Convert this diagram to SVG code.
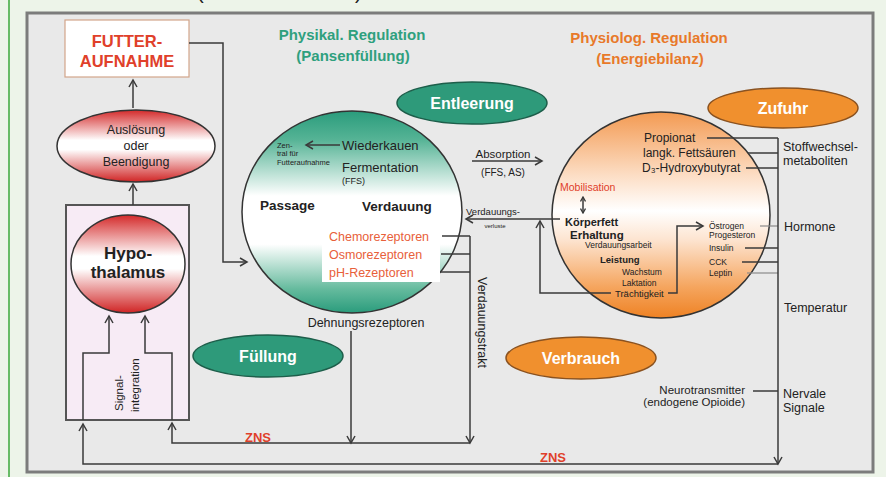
<svg xmlns="http://www.w3.org/2000/svg" width="886" height="477" viewBox="0 0 886 477">
  <defs>
    <linearGradient id="gRed" x1="0" y1="0" x2="0" y2="1">
      <stop offset="0" stop-color="#d42a2a"/>
      <stop offset="0.42" stop-color="#ffffff"/>
      <stop offset="0.55" stop-color="#ffffff"/>
      <stop offset="1" stop-color="#d02424"/>
    </linearGradient>
    <linearGradient id="gGreen" x1="0" y1="0" x2="0" y2="1">
      <stop offset="0" stop-color="#2a9c7c"/>
      <stop offset="0.14" stop-color="#55b395"/>
      <stop offset="0.42" stop-color="#ffffff"/>
      <stop offset="0.66" stop-color="#ffffff"/>
      <stop offset="0.88" stop-color="#66bb9e"/>
      <stop offset="1" stop-color="#2a9c7c"/>
    </linearGradient>
    <linearGradient id="gOrange" x1="0" y1="0" x2="0" y2="1">
      <stop offset="0" stop-color="#f39a52"/>
      <stop offset="0.3" stop-color="#fcdcc2"/>
      <stop offset="0.48" stop-color="#ffffff"/>
      <stop offset="0.62" stop-color="#fde4d0"/>
      <stop offset="0.85" stop-color="#f5a55e"/>
      <stop offset="1" stop-color="#ee8224"/>
    </linearGradient>
    <marker id="arr" markerWidth="10" markerHeight="10" refX="8" refY="5" orient="auto" markerUnits="userSpaceOnUse">
      <path d="M1,1 L8,5 L1,9" fill="none" stroke="#3a3a3a" stroke-width="1.5"/>
    </marker>
    <marker id="arrSm" markerWidth="6" markerHeight="6" refX="5" refY="3" orient="auto-start-reverse" markerUnits="userSpaceOnUse">
      <path d="M0.5,0.5 L5,3 L0.5,5.5" fill="none" stroke="#3a3a3a" stroke-width="1.3"/>
    </marker>
    <style>
      text { font-family: "Liberation Sans", Arial, sans-serif; fill: #222; }
      .b { font-weight: bold; }
      .mid { text-anchor: middle; }
      .end { text-anchor: end; }
      .red { fill: #e0402a; }
      .rec { fill: #e8603a; }
      .wh { fill: #ffffff; font-weight: bold; }
      .ln { fill: none; stroke: #3a3a3a; stroke-width: 1.5; }
      .lt { fill: none; stroke: #8a8a8a; stroke-width: 1.2; }
      .ellG { fill: #2e9a7a; stroke: #1d5e4a; stroke-width: 1.5; }
      .ellO { fill: #f0902e; stroke: #8a5220; stroke-width: 1.5; }
      .circ { stroke: #333; stroke-width: 1.5; }
    </style>
  </defs>

  <!-- page background and frame -->
  <rect x="0" y="0" width="886" height="477" fill="#edf4e9"/>
  <line x1="9" y1="0" x2="9" y2="477" stroke="#3aa83a" stroke-width="1.5"/>
  <text x="197" y="-1" style="font-size:20px">(</text>
  <text x="355" y="-1" style="font-size:20px">)</text>
  <rect x="27" y="13" width="846" height="459" fill="#e9e9e9" stroke="#7c7c7c" stroke-width="3"/>

  <!-- headings -->
  <g id="title-physical">
    <text x="352" y="40" class="b mid" style="font-size:15px;fill:#2fa07e">Physikal. Regulation</text>
    <text x="353" y="61" class="b mid" style="font-size:15px;fill:#2fa07e">(Pansenfüllung)</text>
  </g>
  <g id="title-physiological">
    <text x="649" y="43" class="b mid" style="font-size:15px;fill:#e8792a">Physiolog. Regulation</text>
    <text x="650" y="64" class="b mid" style="font-size:15px;fill:#e8792a">(Energiebilanz)</text>
  </g>

  <!-- left column -->
  <g id="futteraufnahme">
    <rect x="65" y="20" width="124" height="57" fill="#ffffff" stroke="#d2a58a" stroke-width="1.2"/>
    <text x="127" y="47" class="b mid red" style="font-size:16.5px">FUTTER-</text>
    <text x="127" y="67" class="b mid red" style="font-size:16.5px">AUFNAHME</text>
  </g>
  <g id="ausloesung">
    <ellipse cx="136" cy="146" rx="79" ry="36" fill="url(#gRed)" stroke="#333" stroke-width="1.5"/>
    <text x="136" y="134" class="mid" style="font-size:12.5px">Auslösung</text>
    <text x="136" y="150" class="mid" style="font-size:12.5px">oder</text>
    <text x="136" y="166" class="mid" style="font-size:12.5px">Beendigung</text>
  </g>
  <g id="hypothalamus">
    <rect x="66" y="205" width="123" height="215" fill="#f7ebf5" stroke="#555" stroke-width="2"/>
    <ellipse cx="128" cy="264" rx="57" ry="49" fill="url(#gRed)" stroke="#333" stroke-width="1.5"/>
    <text x="128" y="259" class="b mid" style="font-size:17px">Hypo-</text>
    <text x="128" y="278" class="b mid" style="font-size:17px">thalamus</text>
    <text transform="translate(123,411) rotate(-90)" style="font-size:11.5px">Signal-</text>
    <text transform="translate(139,412) rotate(-90)" style="font-size:11.5px">integration</text>
  </g>

  <!-- rumen (physical regulation) -->
  <g id="pansen">
    <ellipse cx="352" cy="212" rx="110" ry="101" fill="url(#gGreen)" class="circ"/>
    <rect x="322" y="228" width="118" height="54" fill="#ffffff"/>
    <text x="277" y="148" style="font-size:7.5px">Zen-</text>
    <text x="277" y="156" style="font-size:7.5px">tral für</text>
    <text x="277" y="165" style="font-size:7.5px">Futteraufnahme</text>
    <text x="342" y="150" style="font-size:13px">Wiederkauen</text>
    <text x="342" y="172" style="font-size:13px">Fermentation</text>
    <text x="342" y="184" style="font-size:9px">(FFS)</text>
    <text x="260" y="210" class="b" style="font-size:13.5px">Passage</text>
    <text x="362" y="211" class="b" style="font-size:13.5px">Verdauung</text>
    <text x="329" y="241" class="rec" style="font-size:12.5px">Chemorezeptoren</text>
    <text x="329" y="259" class="rec" style="font-size:12.5px">Osmorezeptoren</text>
    <text x="329" y="277" class="rec" style="font-size:12.5px">pH-Rezeptoren</text>
  </g>
  <g id="dehnung">
    <text x="366" y="327" class="mid" style="font-size:12.5px">Dehnungsrezeptoren</text>
  </g>
  <g id="verdauungstrakt">
    <text transform="translate(478,277) rotate(90)" style="font-size:12.5px">Verdauungstrakt</text>
  </g>
  <g id="entleerung">
    <ellipse cx="472" cy="103" rx="75" ry="21" class="ellG"/>
    <text x="472" y="109" class="mid wh" style="font-size:16px">Entleerung</text>
  </g>
  <g id="fuellung">
    <ellipse cx="268" cy="356" rx="75" ry="21" class="ellG"/>
    <text x="268" y="362" class="mid wh" style="font-size:16px">Füllung</text>
  </g>
  <g id="absorption">
    <text x="503" y="158" class="mid" style="font-size:11.5px">Absorption</text>
    <text x="503" y="176" class="mid" style="font-size:10px">(FFS, AS)</text>
  </g>
  <g id="verluste">
    <text x="493" y="215" class="mid" style="font-size:9.5px">Verdauungs-</text>
    <text x="495" y="228" class="mid" style="font-size:6px">verluste</text>
  </g>

  <!-- energy balance (physiological regulation) -->
  <g id="energiebilanz">
    <ellipse cx="661" cy="215" rx="109" ry="103" fill="url(#gOrange)" class="circ"/>
    <text x="644" y="142" style="font-size:12px">Propionat</text>
    <text x="643" y="157" style="font-size:12px">langk. Fettsäuren</text>
    <text x="642" y="172" style="font-size:12px">D₃-Hydroxybutyrat</text>
    <text x="560" y="191" class="red" style="font-size:10.5px">Mobilisation</text>
    <text x="565" y="226" class="b" style="font-size:11px">Körperfett</text>
    <text x="570" y="239" class="b" style="font-size:11.5px">Erhaltung</text>
    <text x="585" y="248" style="font-size:8.5px">Verdauungsarbeit</text>
    <text x="600" y="263" class="b" style="font-size:9.5px">Leistung</text>
    <text x="622" y="275" style="font-size:8.5px">Wachstum</text>
    <text x="622" y="286" style="font-size:8.5px">Laktation</text>
    <text x="615" y="297" style="font-size:9.5px">Trächtigkeit</text>
    <text x="709" y="229" style="font-size:8.5px">Östrogen</text>
    <text x="709" y="238" style="font-size:8.5px">Progesteron</text>
    <text x="709" y="251" style="font-size:8.5px">Insulin</text>
    <text x="709" y="265" style="font-size:8.5px">CCK</text>
    <text x="709" y="276" style="font-size:8.5px">Leptin</text>
  </g>
  <g id="zufuhr">
    <ellipse cx="783" cy="108" rx="75" ry="20" class="ellO"/>
    <text x="783" y="114" class="mid wh" style="font-size:16px">Zufuhr</text>
  </g>
  <g id="verbrauch">
    <ellipse cx="581" cy="358" rx="75" ry="21" class="ellO"/>
    <text x="581" y="364" class="mid wh" style="font-size:16px">Verbrauch</text>
  </g>

  <!-- signal labels on the right -->
  <g id="signals">
    <text x="783" y="151" style="font-size:12.5px">Stoffwechsel-</text>
    <text x="783" y="165" style="font-size:12.5px">metaboliten</text>
    <text x="784" y="231" style="font-size:12.5px">Hormone</text>
    <text x="784" y="312" style="font-size:12.5px">Temperatur</text>
    <text x="745" y="394" class="end" style="font-size:11.5px">Neurotransmitter</text>
    <text x="745" y="406" class="end" style="font-size:11.5px">(endogene Opioide)</text>
    <text x="783" y="398" style="font-size:12.5px">Nervale</text>
    <text x="783" y="412" style="font-size:12.5px">Signale</text>
  </g>

  <!-- ZNS labels -->
  <g id="zns">
    <text x="258" y="442" class="b mid red" style="font-size:13px">ZNS</text>
    <text x="553" y="462" class="b mid red" style="font-size:13px">ZNS</text>
  </g>

  <!-- connectors, drawn over the nodes -->
  <g id="connectors">
    <!-- intake to rumen -->
    <path class="ln" d="M189,43 H223 V262 H247" marker-end="url(#arr)"/>
    <!-- left column upward arrows -->
    <path class="ln" d="M133,108 V80" marker-end="url(#arr)"/>
    <path class="ln" d="M133,205 V184" marker-end="url(#arr)"/>
    <!-- signal integration inside the hypothalamus box -->
    <path class="ln" d="M83,420 V353 H109 V316" marker-end="url(#arr)"/>
    <path class="ln" d="M172,420 V353 H145 V316" marker-end="url(#arr)"/>
    <!-- central food-intake cue from rumination -->
    <path class="ln" d="M340,145 H306" marker-end="url(#arr)"/>
    <!-- inner ZNS loop -->
    <path class="ln" d="M351,331 V443" marker-end="url(#arr)"/>
    <path class="ln" d="M470,236 V443" marker-end="url(#arr)"/>
    <path class="ln" d="M470,443 H172 V423" marker-end="url(#arr)"/>
    <!-- receptor leads -->
    <path class="ln" d="M442,236 H470"/>
    <path class="ln" d="M441,254 H470"/>
    <path class="ln" d="M440,272 H470"/>
    <!-- absorption and losses -->
    <path class="ln" d="M472,161 H542" marker-end="url(#arr)"/>
    <path class="ln" d="M560,219 H466" marker-end="url(#arr)"/>
    <path class="ln" d="M611,293 H540 V221" marker-end="url(#arr)"/>
    <path class="ln" d="M583,197 V213" marker-start="url(#arrSm)" marker-end="url(#arrSm)"/>
    <!-- pregnancy to hormones -->
    <path class="ln" d="M668,293 H677 V226 H703" marker-end="url(#arr)"/>
    <!-- metabolites, hormones, nerval signals to outer ZNS loop -->
    <path class="ln" d="M707,138 H778"/>
    <path class="ln" d="M748,153 H778"/>
    <path class="ln" d="M746,168 H778"/>
    <path class="lt" d="M760,226 H778"/>
    <path class="ln" d="M745,248 H778"/>
    <path class="ln" d="M742,262 H778"/>
    <path class="lt" d="M747,273 H778"/>
    <path class="ln" d="M753,391 H778"/>
    <path class="ln" d="M778,138 V464" marker-end="url(#arr)"/>
    <path class="ln" d="M778,464 H83 V424" marker-end="url(#arr)"/>
  </g>
</svg>
